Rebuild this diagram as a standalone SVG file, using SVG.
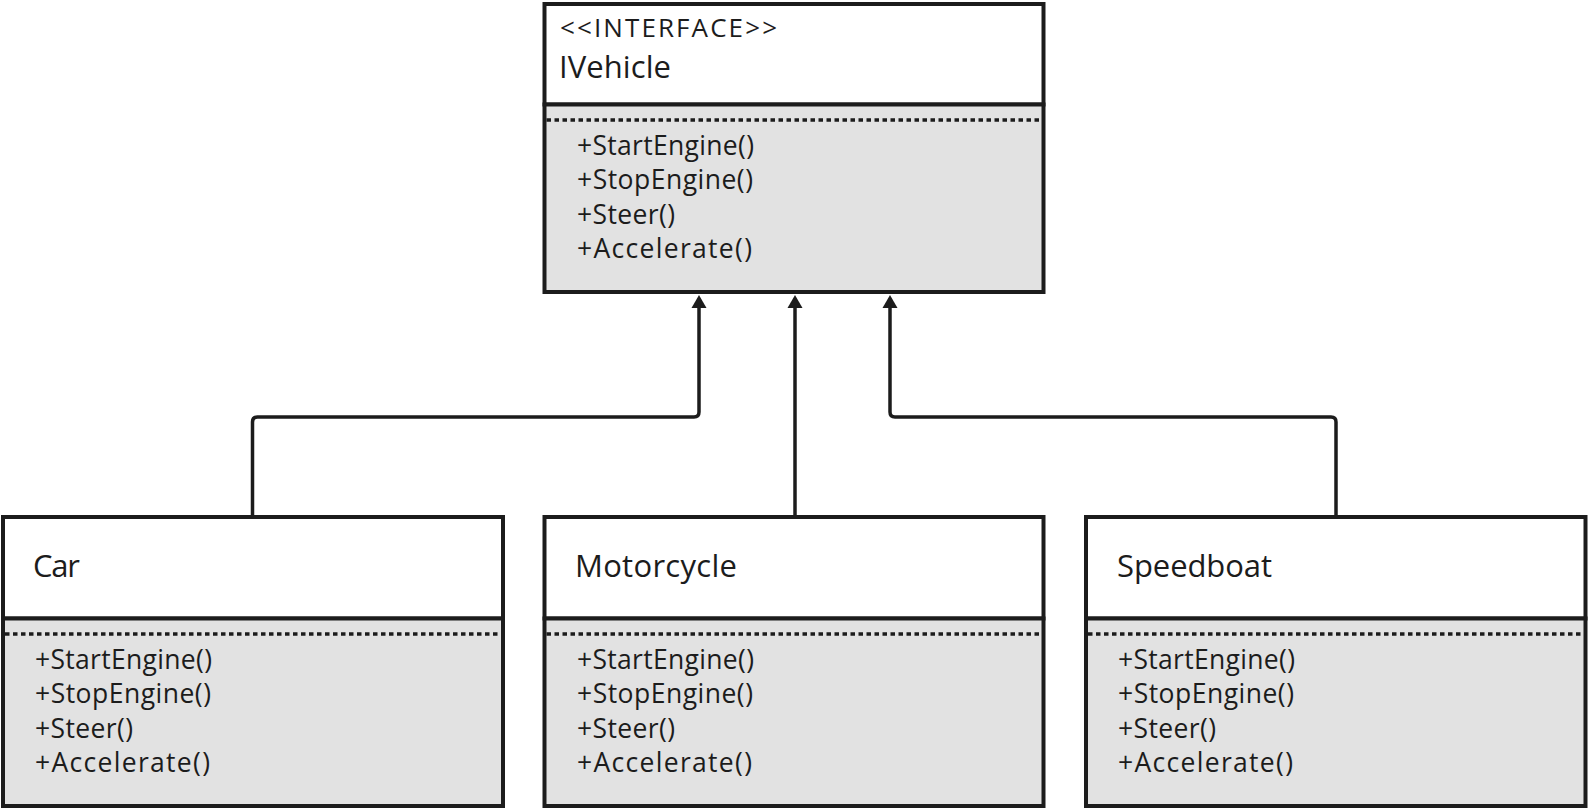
<svg xmlns="http://www.w3.org/2000/svg" width="1589" height="810" viewBox="0 0 1589 810">
<style>
.hdr{fill:#ffffff;stroke:#1c1c1c;stroke-width:4}
.body{fill:#e2e2e2;stroke:#1c1c1c;stroke-width:4}
.dots{stroke:#1c1c1c;stroke-width:3.5;stroke-dasharray:4.5 3.5}
.t{font-family:"Open Sans","Noto Sans",sans-serif;fill:#1c1c1c}
.name{font-size:31px}
.st{font-size:26px}
.m{font-size:26.5px}
.conn{fill:none;stroke:#1c1c1c;stroke-width:3.5}
.head{fill:#1c1c1c}
</style>
<rect width="1589" height="810" fill="#ffffff"/>
<g id="connectors">
<path class="conn" d="M252.5,517 V422 Q252.5,417 257.5,417 H694 Q699,417 699,412 V306"/>
<polygon class="head" points="699,295 706.5,308 691.5,308"/>
<path class="conn" d="M795,517 V306"/>
<polygon class="head" points="795,295 802.5,308 787.5,308"/>
<path class="conn" d="M1336,517 V422 Q1336,417 1331,417 H895 Q890,417 890,412 V306"/>
<polygon class="head" points="890,295 897.5,308 882.5,308"/>
</g>
<g id="IVehicle">
<rect class="hdr" x="544.5" y="4" width="499" height="100.5"/>
<rect class="body" x="544.5" y="104.5" width="499" height="187.5"/>
<line class="dots" x1="546.5" y1="120" x2="1041.5" y2="120"/>
<text class="t st" x="560" y="37" textLength="217" lengthAdjust="spacing">&lt;&lt;INTERFACE&gt;&gt;</text>
<text class="t name" x="559" y="78" textLength="112" lengthAdjust="spacing">IVehicle</text>
<text class="t m" x="577" y="154.5" textLength="177" lengthAdjust="spacing">+StartEngine()</text>
<text class="t m" x="577" y="189" textLength="176" lengthAdjust="spacing">+StopEngine()</text>
<text class="t m" x="577" y="223.5" textLength="98" lengthAdjust="spacing">+Steer()</text>
<text class="t m" x="577" y="258" textLength="175" lengthAdjust="spacing">+Accelerate()</text>
</g>
<g id="Car">
<rect class="hdr" x="3" y="517" width="500" height="101.5"/>
<rect class="body" x="3" y="618.5" width="500" height="187.5"/>
<line class="dots" x1="5" y1="634" x2="501" y2="634"/>
<text class="t name" x="33" y="577" textLength="47" lengthAdjust="spacing">Car</text>
<text class="t m" x="35" y="668.5" textLength="177" lengthAdjust="spacing">+StartEngine()</text>
<text class="t m" x="35" y="703" textLength="176" lengthAdjust="spacing">+StopEngine()</text>
<text class="t m" x="35" y="737.5" textLength="98" lengthAdjust="spacing">+Steer()</text>
<text class="t m" x="35" y="772" textLength="175" lengthAdjust="spacing">+Accelerate()</text>
</g>
<g id="Motorcycle">
<rect class="hdr" x="544.5" y="517" width="499" height="101.5"/>
<rect class="body" x="544.5" y="618.5" width="499" height="187.5"/>
<line class="dots" x1="546.5" y1="634" x2="1041.5" y2="634"/>
<text class="t name" x="575" y="577" textLength="162" lengthAdjust="spacing">Motorcycle</text>
<text class="t m" x="577" y="668.5" textLength="177" lengthAdjust="spacing">+StartEngine()</text>
<text class="t m" x="577" y="703" textLength="176" lengthAdjust="spacing">+StopEngine()</text>
<text class="t m" x="577" y="737.5" textLength="98" lengthAdjust="spacing">+Steer()</text>
<text class="t m" x="577" y="772" textLength="175" lengthAdjust="spacing">+Accelerate()</text>
</g>
<g id="Speedboat">
<rect class="hdr" x="1086" y="517" width="499.5" height="101.5"/>
<rect class="body" x="1086" y="618.5" width="499.5" height="187.5"/>
<line class="dots" x1="1088" y1="634" x2="1583.5" y2="634"/>
<text class="t name" x="1117" y="577" textLength="155" lengthAdjust="spacing">Speedboat</text>
<text class="t m" x="1118" y="668.5" textLength="177" lengthAdjust="spacing">+StartEngine()</text>
<text class="t m" x="1118" y="703" textLength="176" lengthAdjust="spacing">+StopEngine()</text>
<text class="t m" x="1118" y="737.5" textLength="98" lengthAdjust="spacing">+Steer()</text>
<text class="t m" x="1118" y="772" textLength="175" lengthAdjust="spacing">+Accelerate()</text>
</g>
</svg>
